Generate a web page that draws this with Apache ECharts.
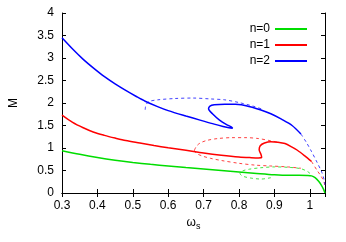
<!DOCTYPE html>
<html>
<head>
<meta charset="utf-8">
<script src="https://cdn.jsdelivr.net/npm/echarts@6/dist/echarts.min.js"></script>
<style>html,body{margin:0;padding:0;background:#fff}#c{width:346px;height:242px}</style>
</head>
<body>
<div id="c"></div>
<script>
var xTicks = [0.3, 0.4, 0.5, 0.6, 0.7, 0.8, 0.9, 1.0];
var yTicks = [0, 0.5, 1, 1.5, 2, 2.5, 3, 3.5, 4];
var seriesNames = ['n=0', 'n=1', 'n=2'];

var n0Solid = [[0.3,0.94],[0.35,0.86],[0.4,0.79],[0.45,0.73],[0.5,0.68],[0.55,0.637],[0.6,0.60],[0.65,0.565],[0.7,0.532],[0.75,0.50],[0.8,0.468],[0.85,0.435],[0.9,0.405],[0.94,0.393],[0.97,0.395],[0.993,0.39],[1.005,0.38],[1.015,0.34],[1.025,0.26],[1.033,0.17],[1.039,0.08],[1.043,0]];
var n0Dotted = [[0.89,0.34],[0.863,0.31],[0.835,0.33],[0.812,0.37],[0.803,0.43],[0.81,0.49],[0.83,0.53],[0.86,0.56],[0.9,0.58],[0.94,0.57],[0.975,0.54],[0.995,0.47],[1.005,0.40]];

var n1Solid = [[0.3,1.73],[0.33,1.57],[0.36,1.45],[0.39,1.35],[0.42,1.28],[0.45,1.22],[0.48,1.165],[0.52,1.11],[0.56,1.055],[0.6,1.005],[0.65,0.95],[0.7,0.89],[0.75,0.84],[0.8,0.80],[0.835,0.785],[0.855,0.78],[0.864,0.79],[0.862,0.86],[0.857,0.96],[0.86,1.05],[0.872,1.11],[0.89,1.14],[0.91,1.13],[0.93,1.10],[0.95,1.02],[0.965,0.95],[0.985,0.83],[1.005,0.70]];
var n1DottedTop = [[0.674,0.95],[0.68,1.04],[0.69,1.11],[0.71,1.17],[0.74,1.21],[0.78,1.23],[0.82,1.23],[0.855,1.21],[0.89,1.16],[0.91,1.13]];
var n1DottedBottom = [[0.674,0.95],[0.68,0.88],[0.697,0.82],[0.72,0.77],[0.752,0.72],[0.8,0.66],[0.845,0.62],[0.89,0.60],[0.937,0.58],[0.975,0.55]];
var n1DottedTail = [[1.005,0.70],[1.02,0.51],[1.033,0.36],[1.04,0.25],[1.043,0.15]];

var n2Solid = [[0.3,3.45],[0.33,3.20],[0.36,2.97],[0.39,2.77],[0.42,2.585],[0.45,2.425],[0.48,2.28],[0.51,2.145],[0.535,2.04],[0.57,1.92],[0.6,1.83],[0.65,1.71],[0.69,1.62],[0.73,1.53],[0.755,1.48],[0.772,1.45],[0.782,1.44],[0.778,1.47],[0.765,1.52],[0.745,1.62],[0.725,1.76],[0.714,1.87],[0.718,1.93],[0.73,1.96],[0.76,1.975],[0.79,1.97],[0.82,1.94],[0.86,1.85],[0.89,1.76],[0.92,1.64],[0.95,1.50],[0.975,1.31]];
var n2DottedArc = [[0.535,1.85],[0.537,1.95],[0.545,2.03],[0.57,2.07],[0.62,2.10],[0.67,2.11],[0.72,2.09],[0.76,2.07],[0.8,2.01],[0.84,1.93],[0.87,1.85]];
var n2DottedTail = [[0.975,1.31],[0.99,1.13],[1.005,0.92],[1.02,0.69],[1.034,0.46],[1.041,0.28],[1.043,0.18]];

var colors = ['#00dd00', '#ff0000', '#0000ff'];
var FONT = 'Liberation Sans';

function solid(name, data, color) {
  return {type:'line', name:name, data:data, showSymbol:false, symbol:'none', smooth:0.3,
    lineStyle:{color:color, width:1.5}, itemStyle:{color:color}, z:3, animation:false};
}
function dotted(name, data, color) {
  return {type:'line', name:name, data:data, showSymbol:false, symbol:'none', smooth:0.3,
    lineStyle:{color:color, width:1, type:[3,3], opacity:0.75}, itemStyle:{color:color}, z:2, animation:false};
}

var chart = echarts.init(document.getElementById('c'), null, {renderer:'canvas'});
var axisCommon = {
  axisLine:{show:true, lineStyle:{color:'#000', width:1}},
  axisTick:{show:true, inside:true, length:4, lineStyle:{color:'#000'}},
  splitLine:{show:false}
};
chart.setOption({
  animation:false,
  textStyle:{fontFamily:FONT},
  grid:{left:56, right:21, top:13, bottom:49, containLabel:false},
  legend:{
    data:seriesNames, orient:'vertical', right:34, top:18, align:'right',
    itemWidth:32, itemHeight:14, itemGap:4,
    icon:'path://M0,0L32,0L32,2L0,2Z',
    textStyle:{fontFamily:FONT, fontSize:12, color:'#000'}
  },
  xAxis:[
    Object.assign({type:'value', min:xTicks[0], max:1.043, interval:0.1, position:'bottom',
      name:'{a|ω}{b|s}', nameLocation:'middle', nameGap:22,
      nameTextStyle:{rich:{a:{fontFamily:FONT, fontSize:12, color:'#000'}, b:{fontFamily:FONT, fontSize:9, color:'#000', padding:[7,0,0,0]}}},
      axisLabel:{fontFamily:FONT, fontSize:12, color:'#000', margin:7, showMaxLabel:false}}, axisCommon),
    Object.assign({type:'value', min:xTicks[0], max:1.043, interval:0.1, position:'top',
      axisLabel:{show:false}}, axisCommon)
  ],
  yAxis:[
    Object.assign({type:'value', min:yTicks[0], max:yTicks[yTicks.length-1], interval:0.5, position:'left',
      name:'M', nameLocation:'middle', nameGap:42,
      nameTextStyle:{fontFamily:FONT, fontSize:12, color:'#000'},
      axisLabel:{fontFamily:FONT, fontSize:12, color:'#000', margin:8}}, axisCommon),
    Object.assign({type:'value', min:yTicks[0], max:yTicks[yTicks.length-1], interval:0.5, position:'right',
      axisLabel:{show:false}}, axisCommon)
  ],
  series:[
    dotted('n0d', n0Dotted, colors[0]),
    dotted('n1dt', n1DottedTop, colors[1]),
    dotted('n1db', n1DottedBottom, colors[1]),
    dotted('n1dtail', n1DottedTail, colors[1]),
    dotted('n2da', n2DottedArc, colors[2]),
    dotted('n2dtail', n2DottedTail, colors[2]),
    solid(seriesNames[0], n0Solid, colors[0]),
    solid(seriesNames[1], n1Solid, colors[1]),
    solid(seriesNames[2], n2Solid, colors[2])
  ]
});
</script>
</body>
</html>
